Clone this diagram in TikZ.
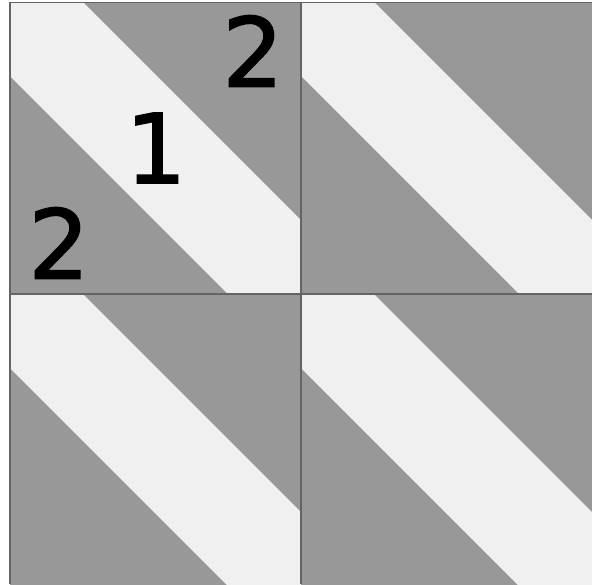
\documentclass[tikz,border=0pt]{standalone}
\usepackage{fontspec}
\setmainfont{DejaVu Sans}
\newfontfamily\digitfont[FakeBold=1.6]{DejaVu Sans}
\definecolor{dark}{RGB}{152,152,152}
\definecolor{light}{RGB}{240,240,240}
\definecolor{edge}{RGB}{100,100,100}
\tikzset{
  digit/.style={font=\digitfont\fontsize{96}{96}\selectfont, text=black, inner sep=0pt}
}
\begin{document}
\begin{tikzpicture}[x=1pt,y=-1pt]
\useasboundingbox (0,0) rectangle (592,584);
\fill[white] (0,0) rectangle (592,584);
\begin{scope}
\clip (0,0) rectangle (592,584);
\foreach \L/\T in {10/2, 301/2, 10/294, 301/294}{
  \fill[dark] (\L,\T) rectangle ++(291,292);
  \fill[light] (\L,\T) -- (\L+73,\T) -- (\L+291,\T+218) -- (\L+291,\T+292)
     -- (\L+218,\T+292) -- (\L,\T+74) -- cycle;
}
\draw[edge, line width=1.5pt] (10,584) -- (10,2.5) -- (592,2.5);
\draw[edge, line width=1.2pt] (301,2) -- (301,584);
\draw[edge, line width=1.2pt] (10,294) -- (592,294);
\end{scope}
\node[digit] (n2a) at (253,51) {2};
\node[digit] (n1) at (156,148) {1};
\node[digit] (n2b) at (59,243) {2};
\end{tikzpicture}
\end{document}
